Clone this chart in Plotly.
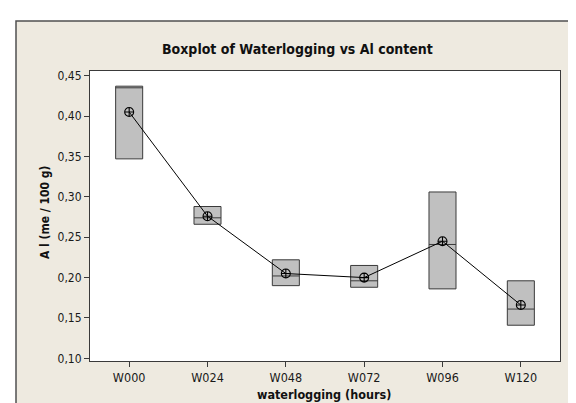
import plotly.graph_objects as go

categories = ["W000", "W024", "W048", "W072", "W096", "W120"]
q1_vals = [0.347, 0.266, 0.190, 0.188, 0.186, 0.141]
median_vals = [0.435, 0.274, 0.202, 0.196, 0.241, 0.161]
q3_vals = [0.437, 0.288, 0.222, 0.215, 0.306, 0.196]
mean_vals = [0.405, 0.276, 0.205, 0.200, 0.245, 0.166]
y_ticks = [0.10, 0.15, 0.20, 0.25, 0.30, 0.35, 0.40, 0.45]

FONT = "Tahoma, 'DejaVu Sans Condensed', 'DejaVu Sans', sans-serif"
BEIGE = "#EEEAE0"
DARK = "#3A3A3A"

fig = go.Figure()
fig.add_trace(go.Box(
    x=categories, q1=q1_vals, median=median_vals, q3=q3_vals,
    lowerfence=q1_vals, upperfence=q3_vals,
    width=0.345, whiskerwidth=0,
    fillcolor="#C0C0C0", line=dict(color=DARK, width=1),
    showlegend=False, hoverinfo="skip",
))
fig.add_trace(go.Scatter(
    x=categories, y=mean_vals, mode="lines+markers",
    line=dict(color="black", width=1),
    marker=dict(symbol="circle-cross-open", size=9, color="black",
                line=dict(width=1.1)),
    showlegend=False, hoverinfo="skip",
))

L, R, T, B = 82, 552, 63, 353
W, H = R - L, B - T
def px(x): return (x - L) / W
def py(y): return (B - y) / H

fig.update_layout(
    width=576, height=403,
    margin=dict(l=L, r=576 - R, t=T, b=403 - B),
    paper_bgcolor="white", plot_bgcolor="white",
    separators=", ",
    font=dict(family=FONT, size=12, color="#1A1A1A"),
    shapes=[
        dict(type="rect", xref="paper", yref="paper", layer="below",
             x0=px(8), x1=px(590), y0=py(400), y1=py(13),
             fillcolor=BEIGE, line=dict(color="#505050", width=1.5)),
        dict(type="rect", xref="paper", yref="paper", layer="below",
             x0=0, x1=1, y0=0, y1=1, fillcolor="white", line=dict(width=0)),
    ],
    annotations=[
        dict(text="<b>Boxplot of Waterlogging vs Al content</b>", x=px(289), y=py(41),
             xref="paper", yref="paper", showarrow=False, xanchor="center", yanchor="middle",
             font=dict(family=FONT, size=14, color="#111111")),
        dict(text="<b>waterlogging (hours)</b>", x=px(316), y=py(386),
             xref="paper", yref="paper", showarrow=False, xanchor="center", yanchor="middle",
             font=dict(family=FONT, size=12.5, color="#111111")),
        dict(text="<b>A l (me / 100 g)</b>", x=px(37), y=py(204), textangle=-90,
             xref="paper", yref="paper", showarrow=False, xanchor="center", yanchor="middle",
             font=dict(family=FONT, size=12, color="#111111")),
    ],
)
fig.update_xaxes(
    type="category", categoryorder="array", categoryarray=categories,
    range=[-0.5, 5.5], showgrid=False, zeroline=False,
    showline=True, mirror=True, linecolor=DARK, linewidth=1,
    ticks="outside", ticklen=5, tickcolor=DARK,
    tickfont=dict(size=12.5),
)
fig.update_yaxes(
    range=[0.0967, 0.4558], tickvals=y_ticks, tickformat=".2f",
    showgrid=False, zeroline=False,
    showline=True, mirror=True, linecolor=DARK, linewidth=1,
    ticks="outside", ticklen=5, tickcolor=DARK,
)
fig.write_html("out.html")
